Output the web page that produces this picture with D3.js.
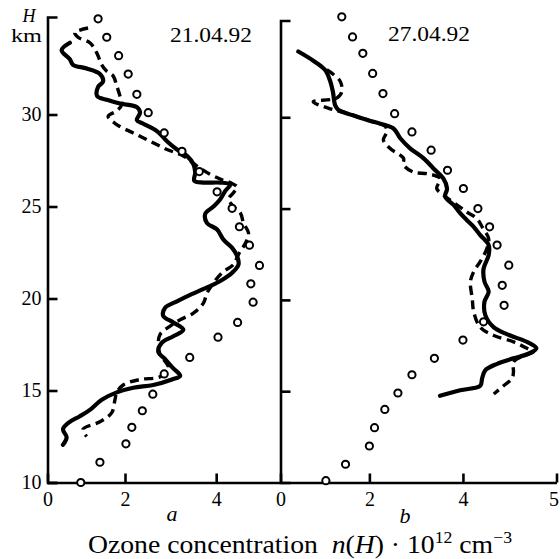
<!DOCTYPE html>
<html>
<head>
<meta charset="utf-8">
<script src="https://cdn.jsdelivr.net/npm/d3@7"></script>
<style>
  body { margin: 0; background: #fff; }
  svg { display: block; font-family: "Liberation Serif", "Times New Roman", serif; }
</style>
</head>
<body>
<svg id="chart" width="560" height="559"></svg>
<script>
// values: [H km, n(H) * 1e12 cm^-3]
const solidA = [
    [33.9, 0.79], [33.5, 0.61], [33.0, 0.79], [32.7, 0.86], [32.5, 1.16], [32.2, 1.45],
    [31.8, 1.52], [31.5, 1.41], [31.0, 1.39], [30.8, 1.6], [30.6, 1.89], [30.4, 2.26],
    [30.1, 2.33], [29.7, 2.26], [29.5, 2.4], [29.1, 2.7], [28.55, 2.92], [28.1, 3.14],
    [27.75, 3.36], [27.3, 3.5], [26.85, 3.54], [26.4, 3.52], [26.3, 3.72], [26.3, 4.09],
    [26.2, 4.31], [25.85, 4.2], [25.4, 4.09], [25.0, 3.94], [24.6, 3.76], [24.1, 3.8],
    [23.75, 4.02], [23.2, 4.16], [22.75, 4.35], [22.3, 4.46], [21.85, 4.49], [21.4, 4.35],
    [20.95, 4.09], [20.6, 3.8], [20.2, 3.43], [19.85, 3.14], [19.5, 2.88], [19.05, 2.84],
    [18.7, 3.06], [18.3, 3.28], [17.95, 3.06], [17.6, 2.81], [17.1, 2.73], [16.7, 2.88],
    [16.2, 3.06], [15.8, 3.21], [15.6, 3.03], [15.3, 2.62], [15.15, 2.18], [14.9, 1.82],
    [14.5, 1.49], [13.95, 1.23], [13.6, 1.01], [13.3, 0.79], [12.9, 0.64], [12.45, 0.72],
    [12.05, 0.64]
];
const dashedA = [
    [34.7, 1.19], [34.45, 0.9], [34.2, 0.97], [33.9, 1.23], [33.35, 1.38], [32.7, 1.49],
    [32.35, 1.6], [32.1, 1.74], [31.55, 1.82], [31.0, 1.89], [30.55, 1.93], [30.2, 1.82],
    [29.9, 1.63], [29.45, 1.82], [29.0, 2.18], [28.55, 2.55], [28.1, 2.92], [27.75, 3.28],
    [27.2, 3.58], [26.75, 3.87], [26.45, 4.13], [26.3, 4.31], [26.05, 4.46], [25.75, 4.38],
    [25.4, 4.27], [25.0, 4.38], [24.65, 4.53], [24.1, 4.6], [23.55, 4.71], [23.0, 4.64],
    [22.4, 4.49], [21.85, 4.38], [21.4, 4.13], [20.85, 3.94], [20.3, 3.8], [19.75, 3.72],
    [19.2, 3.5], [18.85, 3.21], [18.5, 2.99], [18.05, 2.77], [17.5, 2.73], [16.95, 2.77],
    [16.25, 2.95], [15.75, 2.77], [15.6, 2.33], [15.3, 1.96], [14.9, 1.82], [14.5, 1.78],
    [13.8, 1.71], [13.3, 1.45], [12.9, 1.08], [12.5, 1.16]
];
const modelA = [
    [35.2, 1.41], [34.2, 1.6], [33.2, 1.86], [32.2, 2.07], [31.1, 2.26], [30.1, 2.51],
    [29.0, 2.86], [28.0, 3.25], [26.9, 3.63], [25.8, 4.02], [24.9, 4.35], [23.9, 4.51],
    [22.9, 4.73], [21.8, 4.95], [20.8, 4.76], [19.8, 4.81], [18.7, 4.47], [17.9, 4.04],
    [16.8, 3.42], [15.9, 2.86], [14.8, 2.61], [13.9, 2.38], [13.0, 2.15], [12.1, 2.02],
    [11.1, 1.45], [10.0, 1.03]
];
const solidB = [
    [33.6, 0.48], [33.1, 0.8], [32.6, 1.05], [32.0, 1.16], [31.4, 1.22], [30.65, 1.27],
    [30.4, 1.34], [30.1, 1.66], [29.75, 2.09], [29.4, 2.51], [28.85, 2.66], [28.3, 2.87],
    [27.75, 3.16], [27.2, 3.37], [26.65, 3.58], [26.1, 3.66], [25.65, 3.62], [25.2, 3.8],
    [24.75, 3.94], [24.35, 4.09], [24.0, 4.23], [23.55, 4.37], [23.0, 4.55], [22.45, 4.55],
    [21.7, 4.44], [21.0, 4.46], [20.45, 4.55], [19.9, 4.46], [19.15, 4.48], [18.5, 4.66],
    [18.05, 5.01], [17.7, 5.37], [17.35, 5.57], [17.05, 5.4], [16.8, 5.08], [16.5, 4.73],
    [16.15, 4.48], [15.7, 4.41], [15.3, 4.37], [15.05, 3.94], [14.75, 3.51]
];
const dashedB = [
    [32.6, 1.09], [32.0, 1.37], [31.4, 1.41], [31.05, 1.3], [30.85, 0.8], [30.5, 1.12],
    [30.25, 1.48], [29.75, 2.08], [29.5, 2.34], [29.2, 2.37], [28.75, 2.3], [28.3, 2.44],
    [27.75, 2.73], [27.4, 2.73], [27.0, 2.94], [26.9, 3.26], [26.65, 3.51], [26.1, 3.44],
    [25.75, 3.58], [25.2, 3.87], [24.8, 4.09], [24.45, 4.3], [24.0, 4.41], [23.35, 4.55],
    [22.8, 4.51], [22.1, 4.37], [21.55, 4.23], [21.0, 4.16], [20.05, 4.2], [19.35, 4.23],
    [18.5, 4.37], [18.05, 4.66], [17.7, 5.08], [17.35, 5.37], [17.15, 5.51], [16.95, 5.3],
    [16.6, 5.08], [16.05, 5.08], [15.7, 5.05], [15.3, 4.87], [14.85, 4.66]
];
const modelB = [
    [35.5, 1.41], [34.4, 1.64], [33.5, 1.86], [32.4, 2.07], [31.3, 2.29], [30.2, 2.54],
    [29.2, 2.91], [28.2, 3.32], [27.1, 3.67], [26.1, 4.01], [25.0, 4.32], [24.0, 4.57],
    [23.0, 4.73], [21.9, 4.98], [20.8, 4.84], [19.7, 4.88], [18.8, 4.44], [17.8, 4.0],
    [16.8, 3.39], [15.9, 2.91], [14.9, 2.61], [14.0, 2.33], [13.0, 2.11], [12.0, 2.0],
    [11.0, 1.49], [10.1, 1.07]
];

// axes as printed
const hDomain = [10, 35.3];
const hTicks = [10, 15, 20, 25, 30];
const xDomainA = [0.3, 5.4];
const xDomainB = [0.1, 6.0];
const xTicksA = [0.3, 2, 4];
const xLabelsA = ["0", "2", "4"];
const xTicksB = [0.1, 2, 4, 6];
const xLabelsB = ["0", "2", "4", "5"];
const dates = ["21.04.92", "27.04.92"];

const svg = d3.select("#chart");

const xA = d3.scaleLinear().domain(xDomainA).range([47.5, 280]);
const xB = d3.scaleLinear().domain(xDomainB).range([280.5, 556.5]);
const yA = d3.scaleLinear().domain(hDomain).range([482.5, 17]);
const yB = d3.scaleLinear().domain(hDomain).range([482.5, 20.5]);

function styleAxis(g) {
    g.selectAll("path, line").attr("stroke", "#000").attr("stroke-width", 2.6);
    g.selectAll("text").attr("fill", "#000").attr("font-size", 20)
        .attr("font-family", '"Liberation Serif", "Times New Roman", serif');
}

// x axes
svg.append("g")
    .attr("transform", "translate(0," + yA(10) + ")")
    .call(d3.axisBottom(xA).tickValues(xTicksA).tickSizeInner(-9).tickSizeOuter(0)
        .tickPadding(9).tickFormat((d, i) => xLabelsA[i]))
    .call(styleAxis);
const axisB = svg.append("g")
    .attr("transform", "translate(0," + yA(10) + ")")
    .call(d3.axisBottom(xB).tickValues(xTicksB).tickSizeInner(-9).tickSizeOuter(0)
        .tickPadding(9).tickFormat((d, i) => xLabelsB[i]))
    .call(styleAxis);
// last label sits against the right edge
axisB.selectAll(".tick text").filter((d, i) => i === xTicksB.length - 1)
    .attr("text-anchor", "end").attr("dx", 2);

// y axes
svg.append("g")
    .attr("transform", "translate(" + xA(xDomainA[0]) + ",0)")
    .call(d3.axisLeft(yA).tickValues(hTicks).tickSizeInner(-10).tickSizeOuter(-10).tickPadding(6))
    .call(styleAxis);
svg.append("g")
    .attr("transform", "translate(" + xB(xDomainB[0]) + ",0)")
    .call(d3.axisLeft(yB).tickValues(hTicks.slice(1)).tickSizeInner(-10).tickSizeOuter(-10)
        .tickFormat(""))
    .call(styleAxis);

function drawPanel(data, x, y) {
    const line = d3.line()
        .x(d => x(d[1]))
        .y(d => y(d[0]))
        .curve(d3.curveCatmullRom.alpha(0.5));

    svg.append("path")
        .datum(data.solid)
        .attr("d", line)
        .attr("fill", "none")
        .attr("stroke", "#000")
        .attr("stroke-width", 4.2)
        .attr("stroke-linejoin", "round")
        .attr("stroke-linecap", "round");

    svg.append("path")
        .datum(data.dashed)
        .attr("d", line)
        .attr("fill", "none")
        .attr("stroke", "#000")
        .attr("stroke-width", 3.4)
        .attr("stroke-dasharray", "9,5.5");

    svg.append("g")
        .selectAll("circle")
        .data(data.model)
        .enter()
        .append("circle")
        .attr("cx", d => x(d[1]))
        .attr("cy", d => y(d[0]))
        .attr("r", 3.6)
        .attr("fill", "#fff")
        .attr("stroke", "#000")
        .attr("stroke-width", 2);
}

drawPanel({ solid: solidA, dashed: dashedA, model: modelA }, xA, yA);
drawPanel({ solid: solidB, dashed: dashedB, model: modelB }, xB, yB);

// labels
svg.append("text").attr("x", 29).attr("y", 22).attr("text-anchor", "middle")
    .attr("font-size", 18).attr("font-style", "italic").text("H");
svg.append("text").attr("x", 42).attr("y", 42).attr("text-anchor", "end")
    .attr("font-size", 18).attr("textLength", 31).attr("lengthAdjust", "spacingAndGlyphs").text("km");

svg.append("text").attr("x", 170).attr("y", 41.5).attr("font-size", 21)
    .attr("textLength", 82).attr("lengthAdjust", "spacingAndGlyphs").text(dates[0]);
svg.append("text").attr("x", 388).attr("y", 40.5).attr("font-size", 21)
    .attr("textLength", 82).attr("lengthAdjust", "spacingAndGlyphs").text(dates[1]);

svg.append("text").attr("x", 172).attr("y", 521).attr("text-anchor", "middle")
    .attr("font-size", 22).attr("font-style", "italic").text("a");
svg.append("text").attr("x", 405).attr("y", 523).attr("text-anchor", "middle")
    .attr("font-size", 22).attr("font-style", "italic").text("b");

const title = svg.append("text")
    .attr("x", 88).attr("y", 553)
    .attr("font-size", 25)
    .attr("textLength", 424)
    .attr("lengthAdjust", "spacingAndGlyphs")
    .style("white-space", "pre");
title.append("tspan").text("Ozone concentration  ");
title.append("tspan").attr("font-style", "italic").text("n");
title.append("tspan").text("(");
title.append("tspan").attr("font-style", "italic").text("H");
title.append("tspan").text(") \u00b7 10");
title.append("tspan").attr("font-size", 16).attr("dy", -10).text("12");
title.append("tspan").attr("dy", 10).text(" cm");
title.append("tspan").attr("font-size", 16).attr("dy", -10).text("\u22123");
</script>
</body>
</html>
